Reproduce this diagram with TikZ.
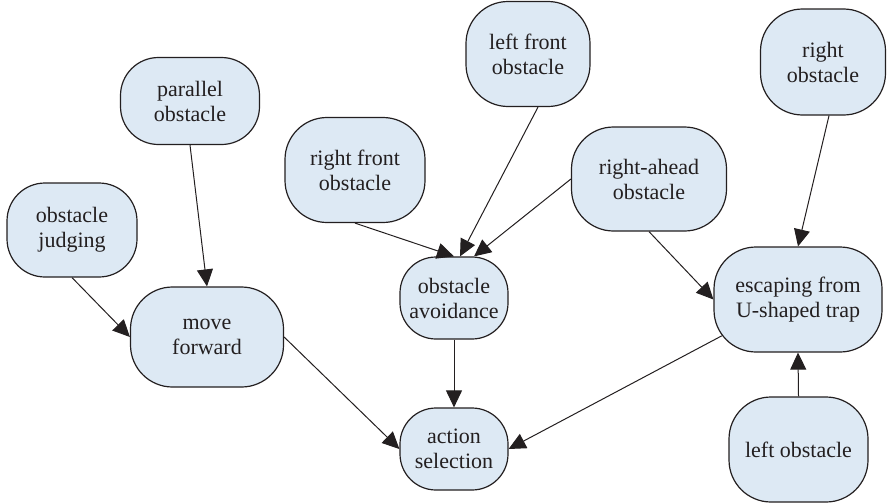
\documentclass[tikz,border=0pt]{standalone}
\usepackage{fontspec}
\setmainfont{Liberation Serif}
\usepackage{tikz}
\usetikzlibrary{arrows.meta,calc}
\definecolor{nodefill}{RGB}{221,233,244}
\definecolor{inkgray}{RGB}{35,31,32}
\tikzset{
  state/.style={draw=inkgray, fill=nodefill, line width=0.6pt, rounded corners=21pt, align=center, inner sep=2pt, font=\fontsize{11}{12.5}\selectfont, text=inkgray},
  flow/.style={-{Triangle[length=8.5pt,width=8pt]}, line width=0.5pt, draw=inkgray, fill=none}
}

\begin{document}
\begin{tikzpicture}[x=0.5pt, y=-0.5pt]
\useasboundingbox (0,0) rectangle (887,503);
\node[state, minimum width=65pt, minimum height=47pt, rounded corners=19pt] (judge) at (72,230) {obstacle\\judging};
\node[state, minimum width=69.5pt, minimum height=43.5pt, rounded corners=19pt] (parallel) at (190,101) {parallel\\obstacle};
\node[state, minimum width=76.5pt, minimum height=50pt] (move) at (207,337) {move\\forward};
\node[state, minimum width=70pt, minimum height=52.5pt] (rfront) at (355,170) {right front\\obstacle};
\node[state, minimum width=62pt, minimum height=52.5pt] (lfront) at (528,54) {left front\\obstacle};
\node[state, minimum width=77.5pt, minimum height=52pt] (rahead) at (649,179) {right-ahead\\obstacle};
\node[state, minimum width=62.5pt, minimum height=53pt] (right) at (823,62) {right\\obstacle};
\node[state, minimum width=54pt, minimum height=41pt, rounded corners=18pt] (avoid) at (454,298) {obstacle\\avoidance};
\node[state, minimum width=54pt, minimum height=41pt, rounded corners=18pt] (action) at (454,449) {action\\selection};
\node[state, minimum width=84pt, minimum height=52.5pt] (escape) at (798,299.5) {escaping from\\U-shaped trap};
\node[state, minimum width=69.5pt, minimum height=52.5pt] (left) at (798.5,449.5) {left obstacle};

\draw[flow] (judge.south) -- (move.west);
\draw[flow] (parallel.south) -- (move.north);
\draw[flow] (move.east) -- (action.west);
\draw[flow] (rfront.south) -- (avoid.north);
\draw[flow] ([xshift=5pt]lfront.south) -- ([xshift=3pt]avoid.north);
\draw[flow] (rahead.west) -- ([xshift=10pt]avoid.north);
\draw[flow] (rahead.south) -- (escape.west);
\draw[flow] ([xshift=3pt]right.south) -- (escape.north);
\draw[flow] (left.north) -- (escape.south);
\draw[flow] (avoid.south) -- (action.north);
\draw[flow] ($(escape.south west)+(8.4,-16.8)$) -- (action.east);
\end{tikzpicture}
\end{document}
